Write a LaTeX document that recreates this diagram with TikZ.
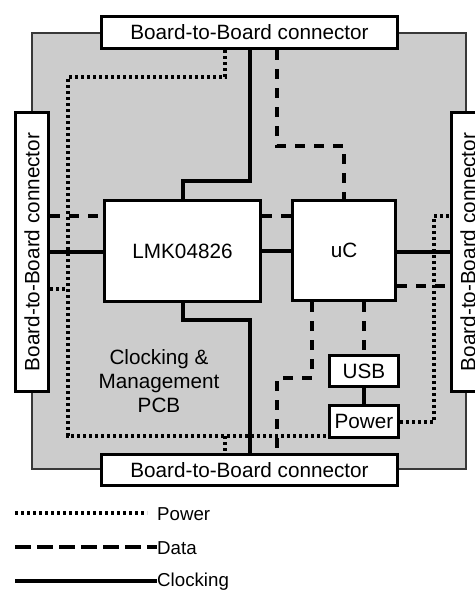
\documentclass[tikz,border=0pt]{standalone}
\usepackage{fontspec}
\setmainfont{Liberation Sans}
\pgfdeclarelayer{board}
\pgfdeclarelayer{wires}
\pgfsetlayers{board,wires,main}
\begin{document}
\begin{tikzpicture}[x=1pt,y=-1pt,
  box/.style={draw=black, fill=white, line width=3.3pt, inner sep=0pt,
    font=\fontsize{20.7}{24}\selectfont},
  clk/.style={line width=3.2pt},
  dat/.style={line width=3.2pt, dash pattern=on 10pt off 9pt},
  pwr/.style={line width=3.2pt, dash pattern=on 3.2pt off 2.8pt},
  legtext/.style={anchor=west, inner sep=0pt, font=\fontsize{18.7}{22}\selectfont},
  txt/.style={inner sep=0pt, font=\fontsize{20.7}{24}\selectfont}]
\useasboundingbox (0,0) rectangle (474,594);
% boxes
\path
  (249.5,32.5) node[box, minimum width=296, minimum height=32] (top) {Board-to-Board connector}
  (249.5,470) node[box, minimum width=296, minimum height=31] (bot) {Board-to-Board connector}
  (32,252) node[box, minimum width=33, minimum height=279] (lconn) {}
  (468,252) node[box, minimum width=33, minimum height=279] (rconn) {}
  (182.5,251) node[box, minimum width=156, minimum height=101] (lmk) {LMK04826}
  (344,250.5) node[box, minimum width=103, minimum height=100] (uc) {uC}
  (364,371) node[box, minimum width=69, minimum height=31] (usb) {USB}
  (364,421.5) node[box, minimum width=69, minimum height=32] (power) {Power};
\node[txt, rotate=90] (ltext) at (lconn.center) {Board-to-Board connector};
\node[txt, rotate=90] (rtext) at (rconn.center) {Board-to-Board connector};
\node[txt, align=center] (pcb) at (159,381) {Clocking \&\\Management\\PCB};
% board
\begin{pgfonlayer}{board}
\draw[draw=black!78, fill=black!20, line width=2.5pt] (32,33) rectangle (466,469);
\end{pgfonlayer}
\begin{pgfonlayer}{wires}
% power (dotted)
\draw[pwr] (top.south -| 225,0) -- (225,77) -- (68,77) -- (68,436) -- (power.west |- 0,436);
\draw[pwr] (225,436) -- (bot.north -| 225,0);
\draw[pwr] (lconn.east |- 0,289) -- (68,289);
\draw[pwr] (power.east |- 0,422) -- (434,422) -- (434,216) -- (rconn.west |- 0,216);
% data (dashed)
\draw[dat] (top.south -| 277,0) -- (277,146) -- (344,146) -- (uc.north -| 344,0);
\draw[dat] (lconn.east |- 0,216) -- (lmk.west |- 0,216);
\draw[dat] (lmk.east |- 0,216) -- (uc.west |- 0,216);
\draw[dat] (uc.east |- 0,286) -- (rconn.west |- 0,286);
\draw[dat] (uc.south -| 364,0) -- (usb.north);
\draw[dat] (uc.south -| 312,0) -- (312,378) -- (277,378) -- (bot.north -| 277,0);
% clocking (solid)
\draw[clk] (top.south -| 250,0) -- (250,181) -- (183,181) -- (lmk.north -| 183,0);
\draw[clk] (lconn.east |- 0,252) -- (lmk.west |- 0,252);
\draw[clk] (lmk.east |- 0,251) -- (uc.west |- 0,251);
\draw[clk] (uc.east |- 0,252) -- (rconn.west |- 0,252);
\draw[clk] (lmk.south -| 183,0) -- (183,320) -- (250,320) -- (bot.north -| 250,0);
\draw[clk] (usb.south) -- (power.north);
\end{pgfonlayer}
% legend
\coordinate (lp) at (15,513);
\coordinate (ld) at (15,547);
\coordinate (lc) at (15,581);
\node[legtext] (lpt) at (157,514) {Power};
\node[legtext] (ldt) at (157,548) {Data};
\node[legtext] (lct) at (157,582) {Clocking};
\draw[line width=3.2pt, dash pattern=on 3.2pt off 2.8pt] (lp) -- (147,513);
\draw[line width=3.2pt, dash pattern=on 16pt off 6pt] (ld) -- (ldt.west |- ld);
\draw[clk] (lc) -- (lct.west |- lc);
\end{tikzpicture}
\end{document}
